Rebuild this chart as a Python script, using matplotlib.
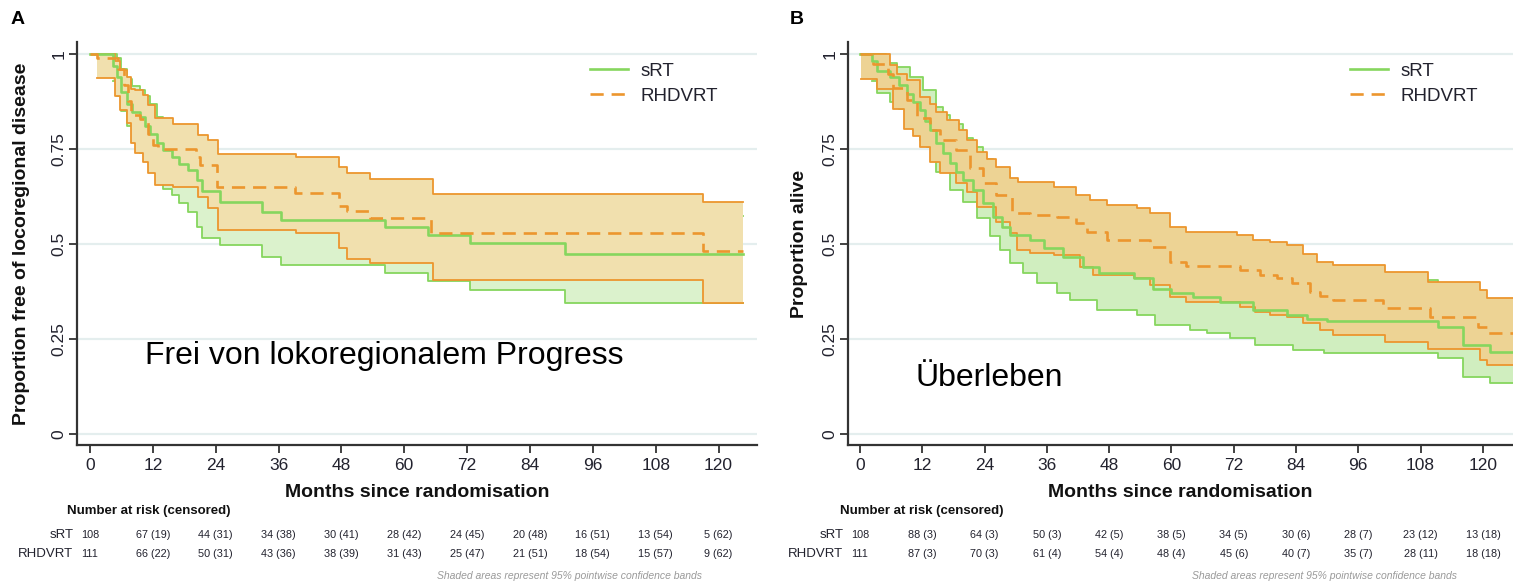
import numpy as np
import matplotlib
matplotlib.use("Agg")
import matplotlib.pyplot as plt
from matplotlib.transforms import blended_transform_factory

plt.rcParams['font.family'] = ['Liberation Sans', 'DejaVu Sans']

# ---------------- data (months, proportion) ----------------
x_ticks = [0, 12, 24, 36, 48, 60, 72, 84, 96, 108, 120]
y_ticks = [0, 0.25, 0.5, 0.75, 1]
y_tick_labels = ["0", "0.25", "0.5", "0.75", "1"]
groups = ["sRT", "RHDVRT"]

# Panel A - free of locoregional disease
a_srt_t = [0, 4.4, 5.2, 6.0, 7.0, 8.0, 9.5, 10.5, 11.5, 12.7, 14.0, 15.6, 16.9, 18.8,
           20.4, 21.3, 24.8, 32.8, 36.5, 56.3, 64.6, 72.6, 90.7, 124.6]
a_srt_s = [1.0, 0.97, 0.94, 0.90, 0.87, 0.848, 0.835, 0.81, 0.79, 0.765, 0.747, 0.729, 0.712, 0.695,
           0.668, 0.64, 0.611, 0.585, 0.563, 0.545, 0.524, 0.502, 0.473, 0.473]
a_srt_ci_t = [4.4, 5.2, 6.0, 7.0, 8.0, 9.5, 10.5, 11.5, 12.7, 14.0, 15.6, 16.9, 18.8,
              20.4, 21.3, 24.8, 32.8, 36.5, 56.3, 64.6, 72.6, 90.7, 124.6]
a_srt_lo = [0.93, 0.89, 0.85, 0.81, 0.78, 0.74, 0.72, 0.69, 0.66, 0.645, 0.629, 0.607, 0.585,
            0.545, 0.515, 0.497, 0.467, 0.445, 0.423, 0.403, 0.379, 0.344, 0.344]
a_srt_hi = [1.0, 0.99, 0.96, 0.935, 0.915, 0.905, 0.89, 0.87, 0.835, 0.815, 0.80, 0.785, 0.77,
            0.745, 0.725, 0.70, 0.675, 0.655, 0.64, 0.62, 0.60, 0.575, 0.575]

a_rh_t = [0, 1.3, 5.4, 6.4, 7.3, 7.9, 9.5, 11.1, 12.1, 13.0, 20.3, 21.0, 24.2, 39.2,
          47.5, 49.0, 53.5, 65.2, 117.1, 124.6]
a_rh_s = [1.0, 0.99, 0.96, 0.92, 0.877, 0.84, 0.829, 0.79, 0.76, 0.75, 0.73, 0.708, 0.651, 0.635,
          0.60, 0.586, 0.568, 0.528, 0.482, 0.482]
a_rh_ci_t = [1.3, 4.8, 5.7, 7.0, 7.9, 8.6, 10.2, 11.1, 12.4, 15.9, 20.6, 22.6, 24.5, 39.3,
             47.5, 49.0, 53.5, 65.5, 117.1, 124.6]
a_rh_lo = [0.937, 0.891, 0.853, 0.818, 0.766, 0.74, 0.716, 0.686, 0.655, 0.651, 0.624, 0.594, 0.537, 0.528,
           0.49, 0.462, 0.451, 0.405, 0.344, 0.344]
a_rh_hi = [1.0, 0.983, 0.958, 0.939, 0.908, 0.905, 0.892, 0.866, 0.831, 0.817, 0.787, 0.774, 0.738, 0.728,
           0.704, 0.686, 0.672, 0.633, 0.610, 0.610]

# Panel B - overall survival
b_srt_t = [0, 2.4, 3.2, 5.8, 7.5, 9.0, 10.3, 11.6, 12.5, 13.5, 14.7, 16.0, 17.3, 18.6, 19.9,
           21.8, 23.8, 25.7, 27.3, 28.9, 32.8, 35.4, 39.2, 43.0, 46.0, 52.7, 56.5, 60.0, 64.2,
           69.4, 75.8, 82.2, 86.1, 89.9, 111.4, 116.2, 121.4, 126]
b_srt_s = [1.0, 0.982, 0.956, 0.94, 0.92, 0.896, 0.875, 0.852, 0.825, 0.801, 0.765, 0.74, 0.713, 0.69, 0.669,
           0.642, 0.607, 0.572, 0.545, 0.524, 0.511, 0.489, 0.467, 0.44, 0.423, 0.41, 0.383, 0.372, 0.361,
           0.348, 0.326, 0.313, 0.304, 0.298, 0.282, 0.234, 0.217, 0.217]
b_srt_hi_t = [2.4, 5.1, 7.1, 9.6, 12.2, 14.7, 16.0, 17.3, 19.9, 21.8, 23.8, 25.7, 28.9, 32.8, 35.4,
              39.2, 43.0, 47.5, 53.3, 56.5, 59.7, 64.2, 69.4, 75.8, 82.2, 89.9, 111.4, 116.2, 121.4, 126]
b_srt_hi = [1.0, 0.978, 0.965, 0.94, 0.905, 0.861, 0.84, 0.815, 0.78, 0.755, 0.725, 0.69, 0.645, 0.63, 0.61,
            0.585, 0.56, 0.535, 0.525, 0.50, 0.49, 0.47, 0.455, 0.432, 0.42, 0.405, 0.39, 0.335, 0.315, 0.315]
b_srt_lo_t = [2.4, 3.2, 5.8, 7.5, 9.0, 10.3, 11.6, 12.9, 13.8, 14.7, 17.3, 19.9, 22.5, 25.0, 27.0, 28.9,
              31.5, 34.1, 37.9, 40.5, 45.6, 53.3, 56.8, 63.6, 66.8, 71.3, 76.1, 83.5, 89.3, 111.4,
              116.2, 121.4, 126]
b_srt_lo = [0.93, 0.897, 0.875, 0.855, 0.825, 0.80, 0.775, 0.755, 0.72, 0.69, 0.642, 0.611, 0.568, 0.52, 0.484, 0.449,
            0.423, 0.397, 0.37, 0.353, 0.327, 0.313, 0.287, 0.274, 0.265, 0.252, 0.234, 0.221, 0.212, 0.199,
            0.151, 0.133, 0.133]

b_rh_t = [0, 2.6, 5.5, 6.4, 9.0, 10.9, 13.5, 15.4, 18.6, 21.2, 23.8, 26.3, 29.2, 32.8, 37.9, 41.7,
          43.7, 47.5, 55.9, 59.7, 62.9, 73.2, 77.1, 80.3, 83.2, 86.7, 88.6, 91.2, 100.8, 109.8, 119.1,
          120.7, 126]
b_rh_s = [1.0, 0.974, 0.949, 0.912, 0.88, 0.833, 0.801, 0.774, 0.747, 0.699, 0.66, 0.629, 0.581, 0.577, 0.572,
          0.555, 0.533, 0.511, 0.493, 0.453, 0.443, 0.432, 0.418, 0.41, 0.397, 0.375, 0.362, 0.353, 0.331,
          0.309, 0.282, 0.265, 0.265]
b_rh_hi_t = [0.3, 5.8, 7.1, 9.0, 11.6, 13.5, 14.7, 16.7, 19.0, 20.6, 22.5, 24.4, 26.3, 28.9, 30.5, 37.3,
             41.7, 44.3, 47.5, 53.3, 55.9, 59.7, 62.9, 72.6, 75.8, 79.0, 82.2, 85.4, 88.0, 91.2, 101.2,
             109.5, 119.5, 120.7, 126]
b_rh_hi = [1.0, 0.971, 0.949, 0.931, 0.887, 0.870, 0.848, 0.826, 0.80, 0.774, 0.743, 0.725, 0.703, 0.673,
           0.664, 0.651, 0.629, 0.616, 0.603, 0.594, 0.581, 0.546, 0.533, 0.524, 0.512, 0.505, 0.497, 0.475,
           0.453, 0.445, 0.427, 0.401, 0.379, 0.357, 0.357]
b_rh_lo_t = [0.3, 3.2, 6.4, 8.4, 10.3, 11.6, 13.5, 15.4, 18.6, 20.6, 22.5, 26.3, 28.9, 30.2, 32.8, 37.3,
             42.4, 44.9, 52.7, 55.9, 59.7, 62.9, 73.2, 76.1, 79.0, 82.2, 85.4, 88.6, 91.2, 101.2, 109.5,
             119.5, 120.7, 126]
b_rh_lo = [0.934, 0.908, 0.855, 0.802, 0.785, 0.755, 0.715, 0.686, 0.66, 0.638, 0.598, 0.559, 0.528, 0.484,
           0.476, 0.471, 0.44, 0.418, 0.41, 0.392, 0.361, 0.348, 0.335, 0.322, 0.313, 0.309, 0.291, 0.274,
           0.261, 0.243, 0.223, 0.195, 0.182, 0.182]

# number at risk (censored)
a_risk_srt = ["108", "67 (19)", "44 (31)", "34 (38)", "30 (41)", "28 (42)", "24 (45)", "20 (48)",
              "16 (51)", "13 (54)", "5 (62)"]
a_risk_rh = ["111", "66 (22)", "50 (31)", "43 (36)", "38 (39)", "31 (43)", "25 (47)", "21 (51)",
             "18 (54)", "15 (57)", "9 (62)"]
b_risk_srt = ["108", "88 (3)", "64 (3)", "50 (3)", "42 (5)", "38 (5)", "34 (5)", "30 (6)",
              "28 (7)", "23 (12)", "13 (18)"]
b_risk_rh = ["111", "87 (3)", "70 (3)", "61 (4)", "54 (4)", "48 (4)", "45 (6)", "40 (7)",
             "35 (7)", "28 (11)", "18 (18)"]

GREEN = '#86D65E'
ORANGE = '#EC962E'
TXT = '#22222e'


def stairs(t, s):
    x = np.repeat(np.asarray(t, float), 2)[1:]
    y = np.repeat(np.asarray(s, float), 2)[:-1]
    return x, y


def band(ax, t_hi, hi, t_lo, lo, fill, edge, z):
    xu, yu = stairs(t_hi, hi)
    xl, yl = stairs(t_lo, lo)
    ax.fill(np.r_[xu, xl[::-1]], np.r_[yu, yl[::-1]], color=fill, lw=0, zorder=z)
    ax.plot(xu, yu, color=edge, lw=1.3, zorder=z + 0.5)
    ax.plot(xl, yl, color=edge, lw=1.3, zorder=z + 0.5)


def panel(ax, d, xlim, ylabel, fills, risk, letter, note, note_xy, foot_x, lab_x, ylab_x, letter_x):
    for yv in y_ticks:
        ax.axhline(yv, color='#E4EEEE', lw=1.6, zorder=1)
    band(ax, *d['srt_ci'], fills[0], GREEN, 2)
    band(ax, *d['rh_ci'], fills[1], ORANGE, 3)
    x, y = stairs(d['srt_t'], d['srt_s'])
    ax.plot(x, y, color=GREEN, lw=1.9, zorder=5, label=groups[0])
    x, y = stairs(d['rh_t'], d['rh_s'])
    ax.plot(x, y, color=ORANGE, lw=1.9, ls=(0, (5, 3)), zorder=5, label=groups[1])

    ax.set_xlim(*xlim)
    ax.set_ylim(-0.029, 1.032)
    ax.set_xticks(x_ticks)
    ax.set_yticks(y_ticks)
    ax.set_yticklabels(y_tick_labels, rotation=90, va='center')
    ax.tick_params(length=6, width=1.3, colors='#333333', labelsize=12.5, labelcolor=TXT)
    ax.tick_params(axis='y', pad=1.5)
    ax.tick_params(axis='x', pad=3)
    for s in ['top', 'right']:
        ax.spines[s].set_visible(False)
    for s in ['left', 'bottom']:
        ax.spines[s].set_linewidth(1.6)
        ax.spines[s].set_color('#333333')

    ax.set_ylabel(ylabel, fontsize=14, fontweight='bold', color='#111111')
    ax.yaxis.label.set_va('center')
    ax.yaxis.set_label_coords(ylab_x, 0.5)
    ax.set_xlabel("Months since randomisation", fontsize=14, fontweight='bold', color='#111111')
    ax.xaxis.label.set_va('center')
    ax.xaxis.set_label_coords(0.5, -0.117)

    ax.legend(loc='upper left', bbox_to_anchor=(0.73, 0.99), frameon=False,
              fontsize=13.5, handlelength=2.0, handletextpad=0.7, labelspacing=0.4,
              labelcolor=TXT)

    tr = blended_transform_factory(ax.transData, fig.transFigure)
    ax.text(lab_x, 0.125, "Number at risk (censored)", transform=tr, fontsize=9.5,
            fontweight='bold', color='#111111', ha='left', va='center')
    for row, yy, name in [(risk[0], 0.084, groups[0]), (risk[1], 0.051, groups[1])]:
        ax.text(-3.2, yy, name, transform=tr, fontsize=9.5, color=TXT, ha='right', va='center')
        for xv, s in zip(x_ticks, row):
            ax.text(xv, yy, s, transform=tr, fontsize=7.8, color=TXT, ha='center', va='center')
    ax.text(foot_x, 0.013, "Shaded areas represent 95% pointwise confidence bands",
            transform=tr, fontsize=7.5, style='italic', color='#9a9a9a', ha='right', va='center')

    fig.text(note_xy[0], note_xy[1], note, fontsize=23, color='black', ha='left', va='center')
    fig.text(letter_x, 0.966, letter, fontsize=14, fontweight='bold',
             color='black', ha='center', va='center')


fig = plt.figure(figsize=(15.13, 5.84), dpi=100)
ax_a = fig.add_axes([77 / 1513, 1 - 445 / 584, 680 / 1513, 403 / 584])
ax_b = fig.add_axes([848 / 1513, 1 - 445 / 584, 665 / 1513, 403 / 584])

data_a = dict(srt_t=a_srt_t, srt_s=a_srt_s, rh_t=a_rh_t, rh_s=a_rh_s,
              srt_ci=(a_srt_ci_t, a_srt_hi, a_srt_ci_t, a_srt_lo),
              rh_ci=(a_rh_ci_t, a_rh_hi, a_rh_ci_t, a_rh_lo))
data_b = dict(srt_t=b_srt_t, srt_s=b_srt_s, rh_t=b_rh_t, rh_s=b_rh_s,
              srt_ci=(b_srt_hi_t, b_srt_hi, b_srt_lo_t, b_srt_lo),
              rh_ci=(b_rh_hi_t, b_rh_hi, b_rh_lo_t, b_rh_lo))

panel(ax_a, data_a, (-2.48, 127.35), "Proportion free of locoregional disease",
      ('#DBF2CC', '#F1E0AE'), (a_risk_srt, a_risk_rh), "A",
      "Frei von lokoregionalem Progress", (145 / 1513, 1 - 356 / 584), 116.8, -4.4,
      (22 - 77) / 680, 18 / 1513)
panel(ax_b, data_b, (-2.3, 125.8), "Proportion alive",
      ('#D0EEBF', '#EDD394'), (b_risk_srt, b_risk_rh), "B",
      "Überleben", (915 / 1513, 1 - 378 / 584), 115.0, -3.9,
      (800 - 848) / 665, 797 / 1513)

fig.savefig("out.png", dpi=100)
